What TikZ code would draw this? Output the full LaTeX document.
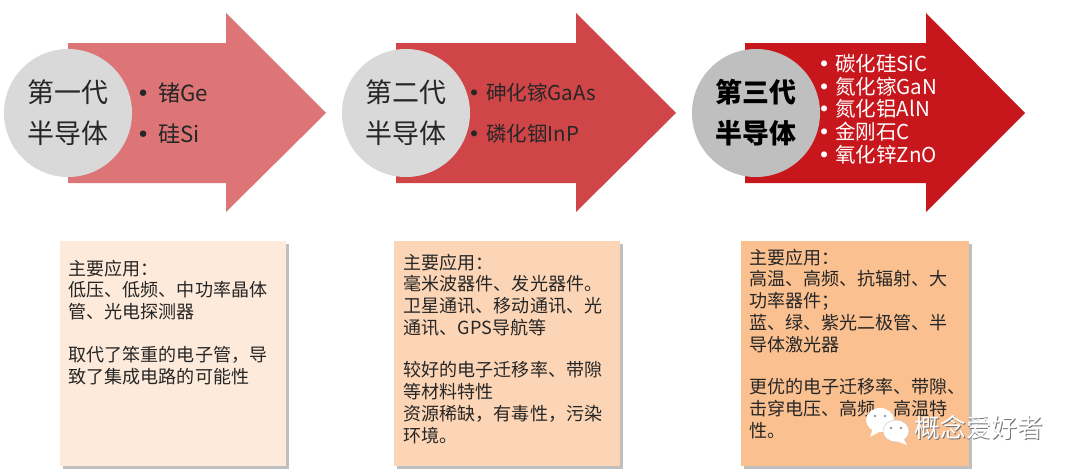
\documentclass[tikz,border=0pt]{standalone}
\usepackage{fontspec}
\setmainfont{Noto Sans CJK SC}
\newfontfamily\dotfont{DejaVu Sans}
\usepackage{xcolor}
\usetikzlibrary{positioning,shadows}
\definecolor{arrowone}{HTML}{DD7577}
\definecolor{arrowtwo}{HTML}{D04548}
\definecolor{arrowthree}{HTML}{C8161D}
\definecolor{boxone}{HTML}{FDEADA}
\definecolor{boxtwo}{HTML}{FBD5B5}
\definecolor{boxthree}{HTML}{FAC090}
\newcommand{\itemdot}[1]{\makebox[#1][c]{\dotfont •}}

\begin{document}
\begin{tikzpicture}[
  x=0.03cm,
  y=-0.03cm,
  gen/.style={
    circle,
    fill=black!15,
    minimum size=3.84cm,
    inner sep=0pt,
    align=center,
    text=black!85,
    font=\fontsize{23}{35}\selectfont
  },
  itemlist/.style={
    anchor=west,
    inner sep=0pt,
    align=left,
    text=black!85,
    font=\fontsize{17.5}{35}\selectfont
  },
  appbox/.style={
    anchor=north west,
    minimum width=6.78cm,
    minimum height=6.75cm,
    inner sep=0pt,
    drop shadow={shadow xshift=0.07cm,shadow yshift=-0.07cm,opacity=0.5}
  },
  apptext/.style={
    anchor=north west,
    inner sep=0pt,
    align=left,
    text=black!85,
    font=\fontsize{15.4}{18.6}\selectfont
  }
]
\useasboundingbox (0,0) rectangle (1080,475);

% arrows
\fill[arrowone] (68,43) -- (226,43) -- (226,13) -- (326,113) -- (226,212) -- (226,183) -- (68,183) -- cycle;
\fill[arrowtwo] (396,43) -- (576,43) -- (576,13) -- (676,113) -- (576,212) -- (576,183) -- (396,183) -- cycle;
\fill[arrowthree] (745,43) -- (926,43) -- (926,13) -- (1025,113) -- (926,212) -- (926,183) -- (745,183) -- cycle;

% generations
\node[gen] (gen1) at (68,113) {第一代\\半导体};
\node[gen] (gen2) at (406,113) {第二代\\半导体};
\node[gen,fill=black!25,text=black,font=\fontsize{23}{35}\selectfont\bfseries] (gen3) at (756,113) {第三代\\半导体};

\node[itemlist,font=\fontsize{19}{35}\selectfont] (mat1) at (128,113) {\itemdot{0.9cm}锗Ge\\\itemdot{0.9cm}硅Si};
\node[itemlist] (mat2) at (462,113) {\itemdot{0.72cm}砷化镓GaAs\\\itemdot{0.72cm}磷化铟InP};
\node[itemlist,text=white,font=\fontsize{17.5}{19.4}\selectfont] (mat3) at (813,109) {\itemdot{0.66cm}碳化硅SiC\\\itemdot{0.66cm}氮化镓GaN\\\itemdot{0.66cm}氮化铝AlN\\\itemdot{0.66cm}金刚石C\\\itemdot{0.66cm}氧化锌ZnO};

% application boxes
\node[appbox,fill=boxone] (box1) at (60,241) {};
\node[appbox,fill=boxtwo] (box2) at (394,241) {};
\node[appbox,fill=boxthree,minimum width=6.84cm] (box3) at (741,241) {};

\node[apptext] (text1) at (68.5,259.5) {主要应用：\\低压、低频、中功率晶体\\管、光电探测器\\[18pt]取代了笨重的电子管，导\\致了集成电路的可能性};
\node[apptext] (text2) at (403.5,253.5) {主要应用：\\毫米波器件、发光器件。\\卫星通讯、移动通讯、光\\通讯、GPS导航等\\[17.5pt]较好的电子迁移率、带隙\\等材料特性\\资源稀缺，有毒性，污染\\环境。};
\node[apptext] (text3) at (749,248.5) {主要应用：\\高温、高频、抗辐射、大\\功率器件；\\蓝、绿、紫光二极管、半\\导体激光器\\[17.5pt]更优的电子迁移率、带隙、\\击穿电压、高频、高温特\\性。};

% watermark
\fill[white] (880,420) ellipse (14 and 12);
\fill[white] (873,428) -- (870,437) -- (881,431) -- cycle;
\fill[white,draw=black!25,line width=0.3pt] (896,431) ellipse (13 and 11);
\fill[white] (903,438) -- (907,445) -- (896,441) -- cycle;
\fill[black!40] (875,416) circle (1.3) (885,416) circle (1.3) (891,428) circle (1.3) (901,428) circle (1.3);
\node[inner sep=0pt,text=black!55,font=\fontsize{22}{26}\selectfont] (markshade) at (979.7,428.7) {概念爱好者};
\node[inner sep=0pt,text=white,font=\fontsize{22}{26}\selectfont] (mark) at (979,428) {概念爱好者};

\end{tikzpicture}
\end{document}
